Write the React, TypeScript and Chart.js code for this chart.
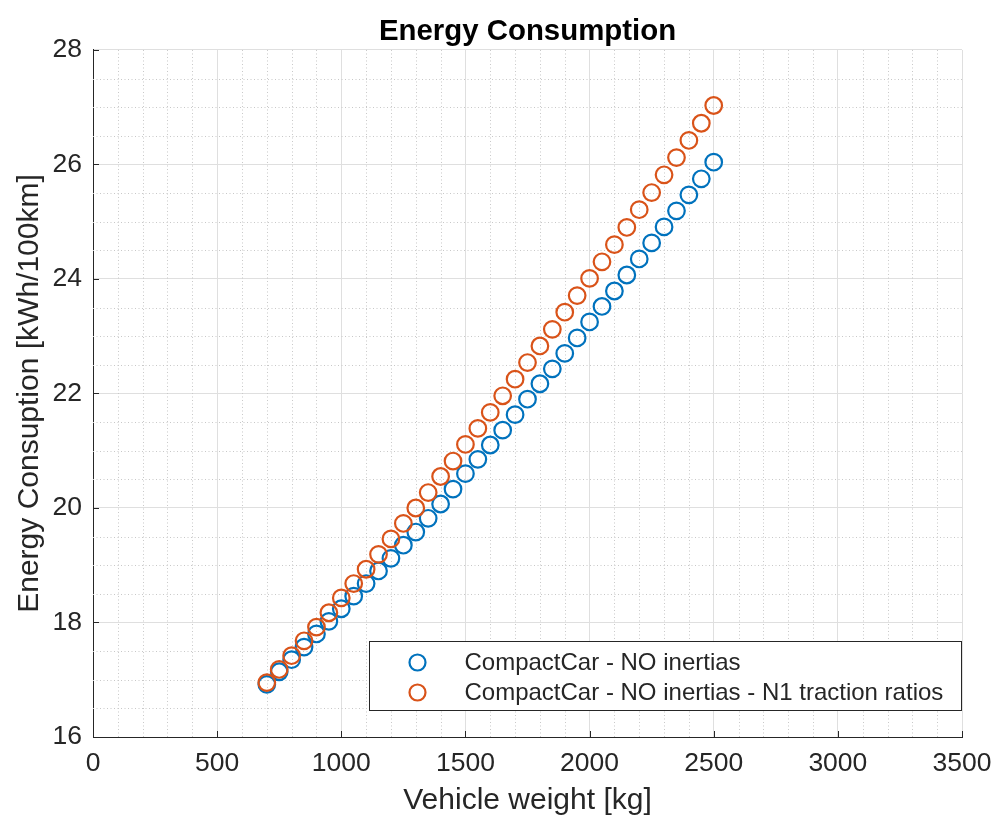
import React, { useEffect, useRef } from 'react';
import { Chart, registerables } from 'chart.js';

Chart.register(...registerables);

// ---------------- data ----------------
const vehicleWeightKg = [
  700, 750, 800, 850, 900, 950, 1000, 1050, 1100, 1150, 1200, 1250, 1300,
  1350, 1400, 1450, 1500, 1550, 1600, 1650, 1700, 1750, 1800, 1850, 1900,
  1950, 2000, 2050, 2100, 2150, 2200, 2250, 2300, 2350, 2400, 2450, 2500,
];

const consumptionNoInertias = [
  16.92, 17.14, 17.35, 17.57, 17.8, 18.02, 18.24, 18.46, 18.68, 18.9, 19.12,
  19.35, 19.58, 19.82, 20.07, 20.33, 20.6, 20.85, 21.1, 21.36, 21.63, 21.9,
  22.17, 22.43, 22.7, 22.97, 23.25, 23.52, 23.79, 24.07, 24.35, 24.63, 24.91,
  25.19, 25.47, 25.75, 26.04,
];

const consumptionN1Traction = [
  16.95, 17.18, 17.42, 17.68, 17.92, 18.17, 18.43, 18.68, 18.93, 19.19, 19.46,
  19.73, 20.0, 20.27, 20.55, 20.82, 21.11, 21.39, 21.67, 21.96, 22.25, 22.54,
  22.83, 23.12, 23.42, 23.71, 24.01, 24.3, 24.6, 24.9, 25.21, 25.51, 25.82,
  26.12, 26.42, 26.72, 27.03,
];

const seriesLabels = [
  'CompactCar - NO inertias',
  'CompactCar - NO inertias - N1 traction ratios',
];

const xTickValues = [0, 500, 1000, 1500, 2000, 2500, 3000, 3500];
const yTickValues = [16, 18, 20, 22, 24, 26, 28];
const xMinorStep = 100;
const yMinorStep = 0.5;

const titleText = 'Energy Consumption';
const xTitleText = 'Vehicle weight [kg]';
const yTitleText = 'Energy Consuption [kWh/100km]';

// ---------------- styles ----------------
const FONT = '"Liberation Sans", Arial, Helvetica, sans-serif';
const TEXT = '#262626';
const MAJOR_GRID = '#dfdfdf';
const MINOR_GRID = '#c8c8c8';
const BLUE = '#0072BD';
const ORANGE = '#D95319';

const matlabDecor = {
  id: 'matlabDecor',
  beforeDatasetsDraw(chart: any) {
    const { ctx, chartArea: a, scales } = chart;
    const x = scales.x;
    const y = scales.y;
    ctx.save();
    ctx.strokeStyle = MINOR_GRID;
    ctx.lineWidth = 1;
    ctx.setLineDash([1, 2.5]);
    const xMin = xTickValues[0];
    const xMax = xTickValues[xTickValues.length - 1];
    for (let v = xMin + xMinorStep; v < xMax; v += xMinorStep) {
      if (xTickValues.includes(v)) continue;
      const px = Math.round(x.getPixelForValue(v)) + 0.5;
      ctx.beginPath();
      ctx.moveTo(px, a.top);
      ctx.lineTo(px, a.bottom);
      ctx.stroke();
    }
    const yMin = yTickValues[0];
    const yMax = yTickValues[yTickValues.length - 1];
    for (let v = yMin + yMinorStep; v < yMax; v += yMinorStep) {
      if (yTickValues.includes(v)) continue;
      const py = Math.round(y.getPixelForValue(v)) + 0.5;
      ctx.beginPath();
      ctx.moveTo(a.left, py);
      ctx.lineTo(a.right, py);
      ctx.stroke();
    }
    ctx.restore();
  },
  afterDatasetsDraw(chart: any) {
    const { ctx, chartArea: a, scales } = chart;
    const x = scales.x;
    const y = scales.y;
    ctx.save();
    // inward ticks
    ctx.strokeStyle = TEXT;
    ctx.lineWidth = 1;
    ctx.setLineDash([]);
    const tl = 6;
    for (const v of xTickValues) {
      const px = Math.round(x.getPixelForValue(v)) + 0.5;
      ctx.beginPath();
      ctx.moveTo(px, a.bottom);
      ctx.lineTo(px, a.bottom - tl);
      ctx.stroke();
    }
    for (const v of yTickValues) {
      const py = Math.round(y.getPixelForValue(v)) + 0.5;
      ctx.beginPath();
      ctx.moveTo(a.left, py);
      ctx.lineTo(a.left + tl, py);
      ctx.stroke();
    }

    // legend (inside, lower right)
    ctx.font = `24px ${FONT}`;
    const items = chart.data.datasets.map((ds: any) => ({
      label: ds.label as string,
      color: ds.borderColor as string,
    }));
    let textW = 0;
    for (const it of items) textW = Math.max(textW, ctx.measureText(it.label).width);
    const right = Math.round(a.right) - 0.5;
    const bottom = Math.round(a.bottom) - 26.5;
    const h = 69;
    const w = 95 + textW + 19;
    const left = Math.round(right - w) + 0.5;
    const top = bottom - h;
    ctx.fillStyle = '#ffffff';
    ctx.fillRect(left, top, right - left, h);
    ctx.strokeStyle = TEXT;
    ctx.lineWidth = 1;
    ctx.strokeRect(left, top, right - left, h);
    items.forEach((it: any, i: number) => {
      const cy = top + 21 + i * 30;
      ctx.beginPath();
      ctx.arc(left + 48, cy, 8, 0, Math.PI * 2);
      ctx.strokeStyle = it.color;
      ctx.lineWidth = 2.2;
      ctx.stroke();
      ctx.fillStyle = TEXT;
      ctx.textBaseline = 'middle';
      ctx.textAlign = 'left';
      ctx.fillText(it.label, left + 95, cy + 1);
    });
    ctx.restore();
  },
};

export default function App() {
  const canvasRef = useRef<HTMLCanvasElement | null>(null);

  useEffect(() => {
    const canvas = canvasRef.current;
    if (!canvas) return;
    const toPoints = (ys: number[]) =>
      vehicleWeightKg.map((xv, i) => ({ x: xv, y: ys[i] }));

    const chart = new Chart(canvas, {
      type: 'scatter',
      data: {
        datasets: [
          {
            label: seriesLabels[0],
            data: toPoints(consumptionNoInertias),
            borderColor: BLUE,
            backgroundColor: 'rgba(0,0,0,0)',
            pointStyle: 'circle',
            pointRadius: 8.3,
            pointBorderWidth: 2.2,
            showLine: false,
            order: 1,
          },
          {
            label: seriesLabels[1],
            data: toPoints(consumptionN1Traction),
            borderColor: ORANGE,
            backgroundColor: 'rgba(0,0,0,0)',
            pointStyle: 'circle',
            pointRadius: 8.3,
            pointBorderWidth: 2.2,
            showLine: false,
            order: 0,
          },
        ],
      },
      options: {
        animation: false,
        responsive: false,
        devicePixelRatio: 1,
        events: [],
        layout: { padding: { left: 0, right: 30, top: 0, bottom: 0 } },
        plugins: {
          legend: { display: false },
          tooltip: { enabled: false },
          title: {
            display: true,
            text: titleText,
            fullSize: false,
            color: '#000000',
            font: { family: FONT, size: 29.4, weight: 'bold', lineHeight: 1.2 },
            padding: { top: 14, bottom: 0.7 },
          },
        },
        scales: {
          x: {
            type: 'linear',
            min: xTickValues[0],
            max: xTickValues[xTickValues.length - 1],
            afterBuildTicks: (s: any) => {
              s.ticks = xTickValues.map((v) => ({ value: v }));
            },
            afterFit: (s: any) => {
              s.height = 82;
              s.paddingRight = 0;
              s.paddingLeft = 0;
            },
            ticks: {
              color: TEXT,
              font: { family: FONT, size: 26.5 },
              padding: 11,
              maxRotation: 0,
              autoSkip: false,
              callback: (v: any) => String(v),
            },
            grid: { color: MAJOR_GRID, lineWidth: 1, drawTicks: false },
            border: { display: true, color: TEXT, width: 1 },
            title: {
              display: true,
              text: xTitleText,
              color: TEXT,
              font: { family: FONT, size: 30, lineHeight: 1.2 },
              padding: { top: 0, bottom: 0 },
            },
          },
          y: {
            type: 'linear',
            min: yTickValues[0],
            max: yTickValues[yTickValues.length - 1],
            afterBuildTicks: (s: any) => {
              s.ticks = yTickValues.map((v) => ({ value: v }));
            },
            afterFit: (s: any) => {
              s.width = 93;
            },
            ticks: {
              color: TEXT,
              font: { family: FONT, size: 26.5 },
              padding: 11,
              autoSkip: false,
              callback: (v: any) => String(v),
            },
            grid: { color: MAJOR_GRID, lineWidth: 1, drawTicks: false },
            border: { display: true, color: TEXT, width: 1 },
            title: {
              display: true,
              text: yTitleText,
              color: TEXT,
              font: { family: FONT, size: 30, lineHeight: 1.2 },
              padding: { top: 12, bottom: 0 },
            },
          },
        },
      },
      plugins: [matlabDecor],
    } as any);

    return () => {
      chart.destroy();
    };
  }, []);

  return (
    <div style={{ position: 'absolute', left: 0, top: 0, width: 992, height: 819, background: '#ffffff' }}>
      <canvas ref={canvasRef} width={992} height={819} style={{ display: 'block' }} />
    </div>
  );
}
